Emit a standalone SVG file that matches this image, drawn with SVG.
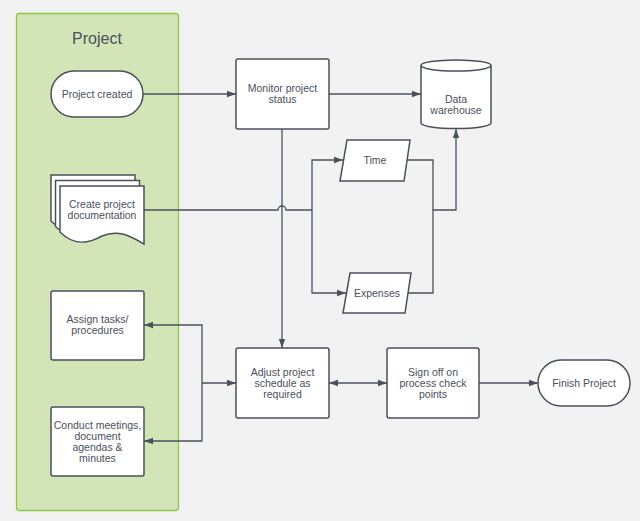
<svg xmlns="http://www.w3.org/2000/svg" width="640" height="521" viewBox="0 0 640 521">
<defs>
<style>
.s{fill:#fff;stroke:#4a505c;stroke-width:1.5}
.c{fill:none;stroke:#4a505c;stroke-width:1.3}
text{font-family:"Liberation Sans",Arial,sans-serif;font-size:10.5px;fill:#4a505c;text-anchor:middle}
</style>
<marker id="a" viewBox="0 0 10 10" refX="10" refY="5" markerWidth="9" markerHeight="9" markerUnits="userSpaceOnUse" orient="auto-start-reverse">
<path d="M0,1.5 L10,5 L0,8.5 Z" fill="#4a505c"/>
</marker>
</defs>
<rect width="640" height="521" fill="#f2f2f2"/>
<g id="lane">
<rect x="16.5" y="13.5" width="162" height="497" rx="3" fill="#d3e5b6" stroke="#8fc84a" stroke-width="1.3"/>
<text x="97" y="44" style="font-size:16px">Project</text>
</g>
<g id="connectors">
<path class="c" d="M143,94 H236" marker-end="url(#a)"/>
<path class="c" d="M329,94 H421" marker-end="url(#a)"/>
<path class="c" d="M282,129 V348" marker-end="url(#a)"/>
<path class="c" d="M144,210 H278 A4,4 0 0 1 286,210 H312"/>
<path class="c" d="M312,210 V160 H343" marker-end="url(#a)"/>
<path class="c" d="M312,210 V293 H346" marker-end="url(#a)"/>
<path class="c" d="M407,160 H433 V210 H456 V129" marker-end="url(#a)"/>
<path class="c" d="M408,293 H433 V210"/>
<path class="c" d="M202,383 H236" marker-end="url(#a)"/>
<path class="c" d="M202,383 V325 H144" marker-end="url(#a)"/>
<path class="c" d="M202,383 V441 H144" marker-end="url(#a)"/>
<path class="c" d="M329,383 H387" marker-start="url(#a)" marker-end="url(#a)"/>
<path class="c" d="M479,383 H538" marker-end="url(#a)"/>
</g>
<g id="project-created">
<rect class="s" x="51" y="71" width="92" height="46" rx="23"/>
<text x="97" y="98">Project created</text>
</g>
<g id="monitor">
<rect class="s" x="236" y="59" width="93" height="70" rx="2"/>
<text x="282.5" y="92">Monitor project</text>
<text x="282.5" y="103">status</text>
</g>
<g id="data-warehouse">
<path class="s" d="M421,65 V123 A35,5.5 0 0 0 491,123 V65"/>
<ellipse class="s" cx="456" cy="65.5" rx="35" ry="5.5"/>
<text x="456" y="103">Data</text>
<text x="456" y="114">warehouse</text>
</g>
<g id="time">
<path class="s" d="M347,140 H410 L404,181 H340 Z"/>
<text x="375" y="164">Time</text>
</g>
<g id="expenses">
<path class="s" d="M350,273 H411 L405,313 H343 Z"/>
<text x="377" y="297">Expenses</text>
</g>
<g id="documentation">
<path class="s" d="M51,175 H135 V233 C121,225 109,218 93,225 C79,233 65,235 51,221 Z"/>
<path class="s" d="M55.5,180.5 H139.5 V238.5 C125.5,230.5 113.5,223.5 97.5,230.5 C83.5,238.5 69.5,240.5 55.5,226.5 Z"/>
<path class="s" d="M60,186 H144 V244 C130,236 118,229 102,236 C88,244 74,246 60,232 Z"/>
<text x="102" y="208">Create project</text>
<text x="102" y="219">documentation</text>
</g>
<g id="assign">
<rect class="s" x="51" y="291" width="93" height="69" rx="2"/>
<text x="97.5" y="323">Assign tasks/</text>
<text x="97.5" y="334">procedures</text>
</g>
<g id="conduct">
<rect class="s" x="51" y="407" width="93" height="69" rx="2"/>
<text x="97.5" y="429">Conduct meetings,</text>
<text x="97.5" y="440">document</text>
<text x="97.5" y="451">agendas &amp;</text>
<text x="97.5" y="462">minutes</text>
</g>
<g id="adjust">
<rect class="s" x="236" y="348" width="93" height="70" rx="2"/>
<text x="282.5" y="376">Adjust project</text>
<text x="282.5" y="387">schedule as</text>
<text x="282.5" y="398">required</text>
</g>
<g id="signoff">
<rect class="s" x="387" y="348" width="92" height="70" rx="2"/>
<text x="433" y="376">Sign off on</text>
<text x="433" y="387">process check</text>
<text x="433" y="398">points</text>
</g>
<g id="finish">
<rect class="s" x="538" y="360" width="92" height="46" rx="23"/>
<text x="584" y="387">Finish Project</text>
</g>
</svg>
